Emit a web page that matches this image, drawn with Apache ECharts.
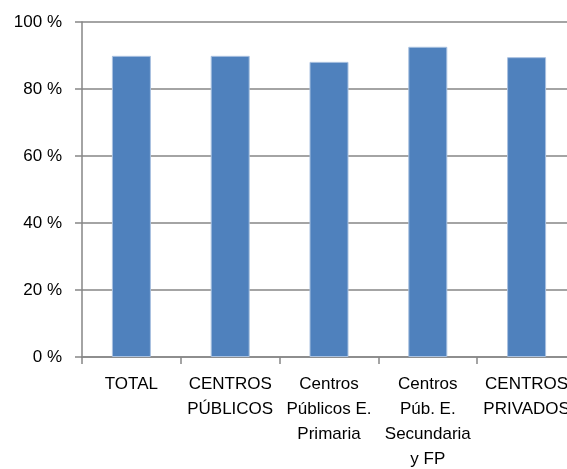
<!DOCTYPE html>
<html>
<head>
<meta charset="utf-8">
<script src="https://cdn.jsdelivr.net/npm/echarts@6/dist/echarts.min.js"></script>
<style>
  html, body { margin: 0; padding: 0; background: #fff; }
  #chart { width: 567px; height: 469px; }
</style>
</head>
<body>
<div id="chart"></div>
<script>
const categories = ['TOTAL', 'CENTROS\nPÚBLICOS', 'Centros\nPúblicos E.\nPrimaria', 'Centros\nPúb. E.\nSecundaria\ny FP', 'CENTROS\nPRIVADOS']
const values = [89.9, 89.9, 88.1, 92.6, 89.5]
const yTicks = [0, 20, 40, 60, 80, 100]

const gray = '#868686'
const font = 'Liberation Sans'

const option = {
  animation: false,
  // plot runs past the right edge, like the original
  grid: { left: 82, width: 494, top: 22, bottom: 112, outerBoundsMode: 'none', containLabel: false },
  xAxis: {
    type: 'category',
    data: categories,
    axisLine: { lineStyle: { color: gray, width: 1.5 } },
    axisTick: { show: true, length: 7, lineStyle: { color: gray, width: 1.5 } },
    axisLabel: {
      interval: 0, margin: 15, color: '#000', fontFamily: font, fontSize: 17, lineHeight: 25
    }
  },
  yAxis: {
    type: 'value',
    min: yTicks[0],
    max: yTicks[yTicks.length - 1],
    interval: 20,
    axisLine: { show: true, lineStyle: { color: gray, width: 1.5 } },
    axisTick: { show: true, length: 7, lineStyle: { color: gray, width: 1.5 } },
    axisLabel: {
      margin: 20, color: '#000', fontFamily: font, fontSize: 17,
      formatter: v => v + ' %'
    },
    splitLine: { lineStyle: { color: gray, width: 1.5 } }
  },
  series: [{
    type: 'bar',
    data: values,
    barWidth: 39,
    itemStyle: { color: '#4F81BD', borderColor: '#a9c1e0', borderWidth: 1 }
  }]
}

echarts.init(document.getElementById('chart')).setOption(option)
</script>
</body>
</html>
